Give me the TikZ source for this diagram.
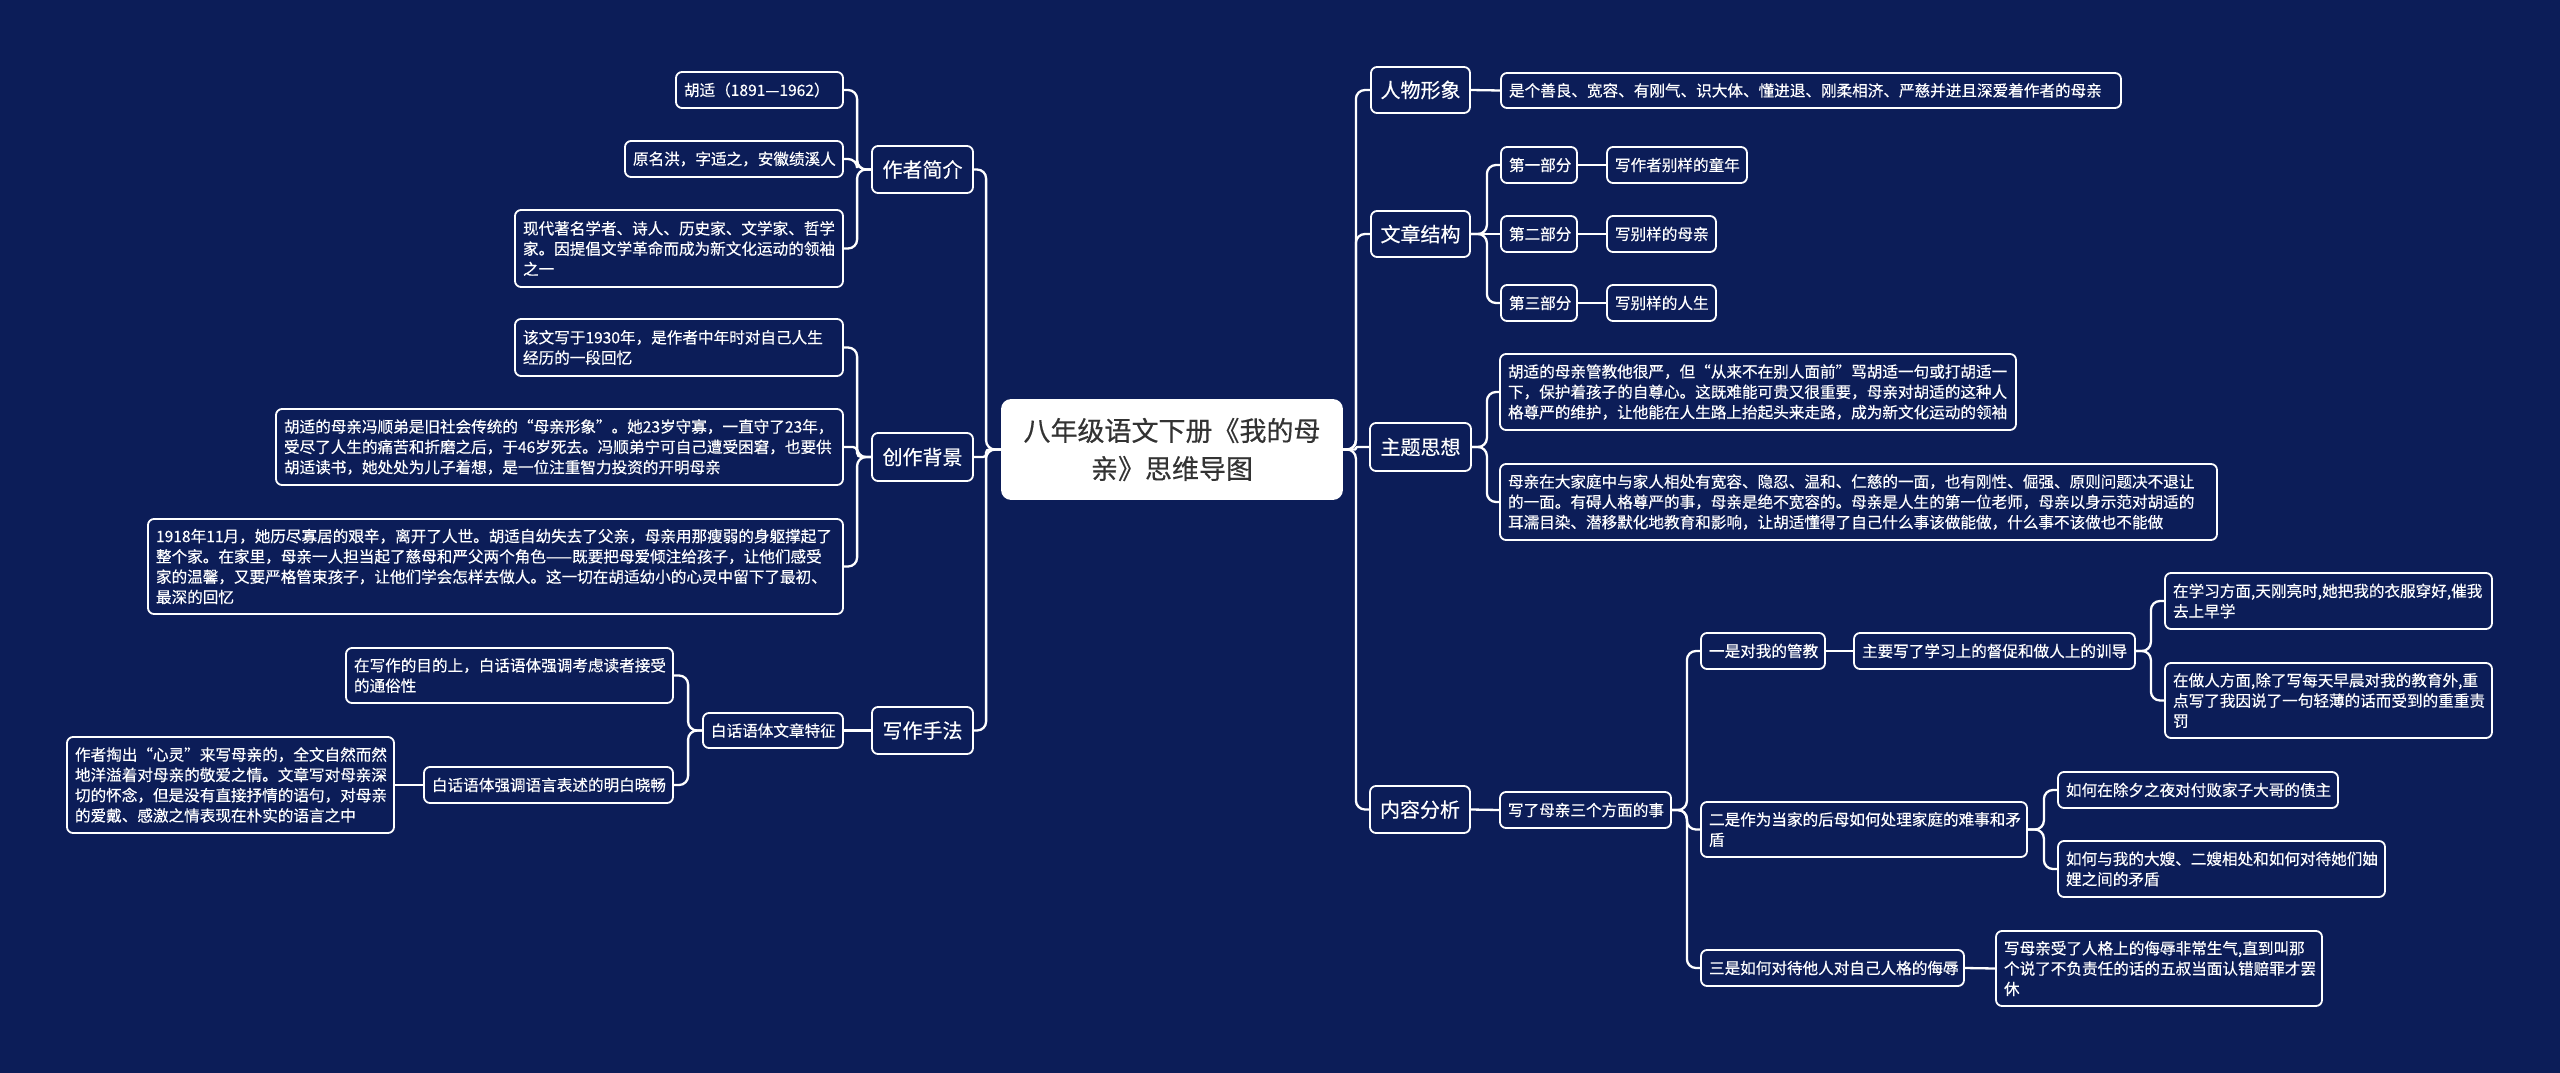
\documentclass[tikz,border=0pt]{standalone}
\usepackage{fontspec}
\newfontfamily\cjk{Noto Sans CJK SC}[FakeBold=0.4]
\definecolor{bg}{HTML}{0C1D58}
\definecolor{roottext}{HTML}{333333}
\tikzset{
 box/.style={draw=white,line width=1.8pt,rounded corners=6pt,fill=bg,text=white,inner xsep=8pt,inner ysep=1pt,align=left,font=\cjk\fontsize{15.6}{20.3}\selectfont},
 lone/.style={align=center,font=\cjk\fontsize{20}{26}\selectfont},
 rootbox/.style={fill=white,draw=white,text=roottext,align=center,rounded corners=9pt,font=\cjk\fontsize{27}{38}\selectfont},
 conn/.style={draw=white,line width=2.3pt,rounded corners=9pt},
}
\newcommand\mybox[7]{%
 \pgfmathsetmacro\bw{#4-#2}\pgfmathsetmacro\bh{#5-#3}\pgfmathsetmacro\tw{#4-#2-16}%
 \node[box,#6,minimum width=\bw pt,minimum height=\bh pt,text width=\tw pt] (#1) at ({(#2+#4)/2},{(#3+#5)/2}) {#7};}
\begin{document}
\begin{tikzpicture}[x=1pt,y=-1pt]
\useasboundingbox (0,0) rectangle (2560,1073);
\fill[bg] (0,0) rectangle (2560,1073);
% root
\mybox{root}{1002}{400}{1342}{499}{rootbox}{八年级语文下册《我的母\\亲》思维导图}
% left level 1
\mybox{zz}{872}{146}{973}{193}{lone}{作者简介}
\mybox{cz}{872}{433}{973}{481}{lone}{创作背景}
\mybox{xz}{872}{707}{973}{754}{lone}{写作手法}
% left leaves
\mybox{zza}{676}{72}{843}{108}{}{胡适（1891—1962）}
\mybox{zzb}{625}{141}{843}{177}{}{原名洪，字适之，安徽绩溪人}
\mybox{zzc}{515}{210}{843}{287}{}{现代著名学者、诗人、历史家、文学家、哲学\\家。因提倡文学革命而成为新文化运动的领袖\\之一}
\mybox{cza}{515}{319}{843}{376}{}{该文写于1930年，是作者中年时对自己人生\\经历的一段回忆}
\mybox{czb}{276}{409}{843}{485}{}{胡适的母亲冯顺弟是旧社会传统的“母亲形象”。她23岁守寡，一直守了23年，\\受尽了人生的痛苦和折磨之后，于46岁死去。冯顺弟宁可自己遭受困窘，也要供\\胡适读书，她处处为儿子着想，是一位注重智力投资的开明母亲}
\mybox{czc}{148}{519}{843}{614}{}{1918年11月，她历尽寡居的艰辛，离开了人世。胡适自幼失去了父亲，母亲用那瘦弱的身躯撑起了\\整个家。在家里，母亲一人担当起了慈母和严父两个角色——既要把母爱倾注给孩子，让他们感受\\家的温馨，又要严格管束孩子，让他们学会怎样去做人。这一切在胡适幼小的心灵中留下了最初、\\最深的回忆}
\mybox{xza}{703}{713}{843}{748}{}{白话语体文章特征}
\mybox{xzaa}{346}{648}{673}{703}{}{在写作的目的上，白话语体强调考虑读者接受\\的通俗性}
\mybox{xzab}{424}{767}{673}{803}{}{白话语体强调语言表述的明白晓畅}
\mybox{xzaba}{67}{737}{394}{833}{}{作者掏出“心灵”来写母亲的，全文自然而然\\地洋溢着对母亲的敬爱之情。文章写对母亲深\\切的怀念，但是没有直接抒情的语句，对母亲\\的爱戴、感激之情表现在朴实的语言之中}
% right level 1
\mybox{rw}{1371}{67}{1470}{113}{lone}{人物形象}
\mybox{wz}{1371}{211}{1470}{257}{lone}{文章结构}
\mybox{zt}{1370}{423}{1471}{471}{lone}{主题思想}
\mybox{nr}{1370}{786}{1470}{833}{lone}{内容分析}
% right leaves
\mybox{rwa}{1501}{73}{2121}{108}{}{是个善良、宽容、有刚气、识大体、懂进退、刚柔相济、严慈并进且深爱着作者的母亲}
\mybox{wza}{1501}{147}{1577}{183}{}{第一部分}
\mybox{wzaa}{1607}{147}{1747}{183}{}{写作者别样的童年}
\mybox{wzb}{1501}{216}{1577}{252}{}{第二部分}
\mybox{wzba}{1607}{216}{1716}{252}{}{写别样的母亲}
\mybox{wzc}{1501}{285}{1577}{321}{}{第三部分}
\mybox{wzca}{1607}{285}{1716}{321}{}{写别样的人生}
\mybox{zta}{1500}{354}{2016}{430}{}{胡适的母亲管教他很严，但“从来不在别人面前”骂胡适一句或打胡适一\\下，保护着孩子的自尊心。这既难能可贵又很重要，母亲对胡适的这种人\\格尊严的维护，让他能在人生路上抬起头来走路，成为新文化运动的领袖}
\mybox{ztb}{1500}{464}{2217}{540}{}{母亲在大家庭中与家人相处有宽容、隐忍、温和、仁慈的一面，也有刚性、倔强、原则问题决不退让\\的一面。有碍人格尊严的事，母亲是绝不宽容的。母亲是人生的第一位老师，母亲以身示范对胡适的\\耳濡目染、潜移默化地教育和影响，让胡适懂得了自己什么事该做能做，什么事不该做也不能做}
\mybox{nra}{1500}{792}{1671}{828}{}{写了母亲三个方面的事}
\mybox{nraa}{1701}{633}{1825}{669}{}{一是对我的管教}
\mybox{nraaa}{1854}{633}{2135}{669}{}{主要写了学习上的督促和做人上的训导}
\mybox{nraaaa}{2165}{573}{2492}{629}{}{在学习方面,天刚亮时,她把我的衣服穿好,催我\\去上早学}
\mybox{nraaab}{2165}{663}{2492}{738}{}{在做人方面,除了写每天早晨对我的教育外,重\\点写了我因说了一句轻薄的话而受到的重重责\\罚}
\mybox{nrab}{1701}{802}{2027}{857}{}{二是作为当家的后母如何处理家庭的难事和矛\\盾}
\mybox{nraba}{2058}{772}{2338}{808}{}{如何在除夕之夜对付败家子大哥的债主}
\mybox{nrabb}{2058}{841}{2385}{897}{}{如何与我的大嫂、二嫂相处和如何对待她们妯\\娌之间的矛盾}
\mybox{nrac}{1701}{950}{1964}{986}{}{三是如何对待他人对自己人格的侮辱}
\mybox{nraca}{1996}{931}{2322}{1006}{}{写母亲受了人格上的侮辱非常生气,直到叫那\\个说了不负责任的话的五叔当面认错赔罪才罢\\休}
% connectors left
\draw[conn] (root.west) -- ++(-15,0) |- (zz.east);
\draw[conn,rounded corners=3pt] (root.west) -- ++(-15,0) |- (cz.east);
\draw[conn] (root.west) -- ++(-15,0) |- (xz.east);
\draw[conn] (zz.west) -- ++(-14,0) |- (zza.east);
\draw[conn] (zz.west) -- ++(-14,0) |- (zzb.east);
\draw[conn] (zz.west) -- ++(-14,0) |- (zzc.east);
\draw[conn] (cz.west) -- ++(-14,0) |- (cza.east);
\draw[conn,rounded corners=4pt] (cz.west) -- ++(-14,0) |- (czb.east);
\draw[conn] (cz.west) -- ++(-14,0) |- (czc.east);
\draw[conn] (xz.west) -- (xza.east);
\draw[conn] (xza.west) -- ++(-14,0) |- (xzaa.east);
\draw[conn] (xza.west) -- ++(-14,0) |- (xzab.east);
\draw[conn] (xzab.west) -- (xzaba.east);
% connectors right
\draw[conn] (root.east) -- ++(13,0) |- (rw.west);
\draw[conn] (root.east) -- ++(13,0) |- (wz.west);
\draw[conn,rounded corners=1pt] (root.east) -- ++(13,0) |- (zt.west);
\draw[conn] (root.east) -- ++(13,0) |- (nr.west);
\draw[conn] (rw.east) -- (rwa.west);
\draw[conn] (wz.east) -- ++(16,0) |- (wza.west);
\draw[conn] (wz.east) -- (wzb.west);
\draw[conn] (wz.east) -- ++(16,0) |- (wzc.west);
\draw[conn] (wza.east) -- (wzaa.west);
\draw[conn] (wzb.east) -- (wzba.west);
\draw[conn] (wzc.east) -- (wzca.west);
\draw[conn] (zt.east) -- ++(15,0) |- (zta.west);
\draw[conn] (zt.east) -- ++(15,0) |- (ztb.west);
\draw[conn] (nr.east) -- (nra.west);
\draw[conn] (nra.east) -- ++(15,0) |- (nraa.west);
\draw[conn] (nra.east) -- ++(15,0) |- (nrab.west);
\draw[conn] (nra.east) -- ++(15,0) |- (nrac.west);
\draw[conn] (nraa.east) -- (nraaa.west);
\draw[conn] (nraaa.east) -- ++(15,0) |- (nraaaa.west);
\draw[conn] (nraaa.east) -- ++(15,0) |- (nraaab.west);
\draw[conn] (nrab.east) -- ++(16,0) |- (nraba.west);
\draw[conn] (nrab.east) -- ++(16,0) |- (nrabb.west);
\draw[conn] (nrac.east) -- (nraca.west);
\end{tikzpicture}
\end{document}
